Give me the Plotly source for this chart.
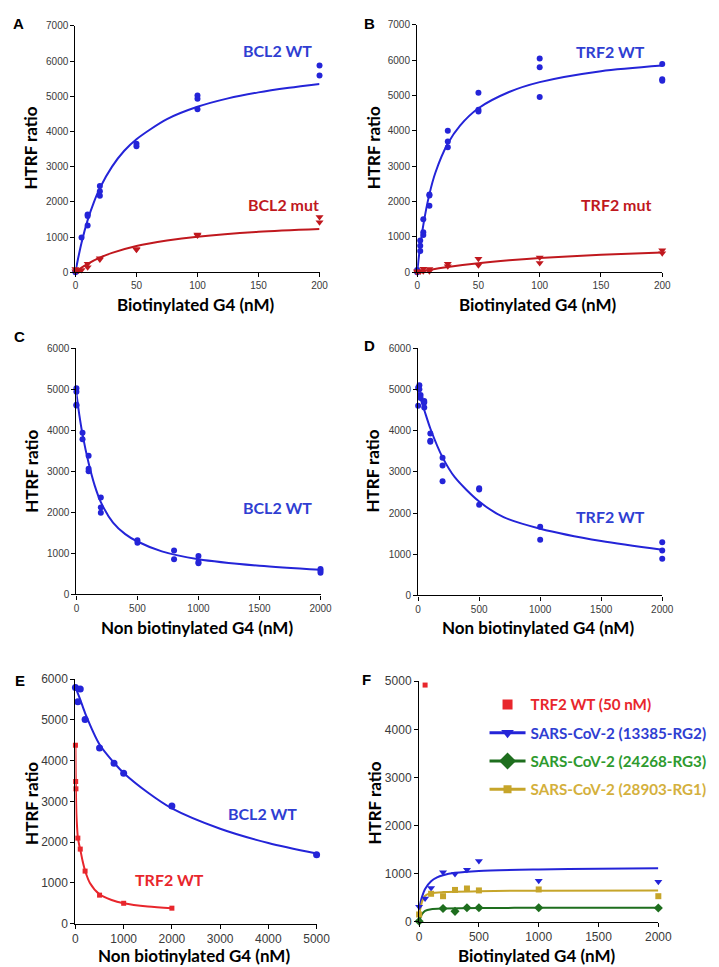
import plotly.graph_objects as go

W, H = 719, 967

# ---------------- DATA ----------------
# Panel A
a_wt_x = [0, 0, 5, 10, 10, 10, 20, 20, 20, 50, 50, 100, 100, 100, 200, 200]
a_wt_y = [30, 0, 990, 1640, 1600, 1330, 2450, 2300, 2170, 3650, 3580, 5020, 4930, 4630, 5870, 5590]
a_wt_fit_x = [0, 2, 5, 10, 15, 20, 30, 40, 50, 75, 100, 125, 150, 175, 200]
a_wt_fit_y = [0, 360, 840, 1480, 1980, 2390, 3000, 3450, 3780, 4350, 4700, 4940, 5110, 5240, 5350]
a_mut_x = [0, 0, 2.5, 5, 10, 10, 20, 20, 50, 50, 100, 100, 200, 200]
a_mut_y = [90, 30, 40, 60, 240, 140, 400, 360, 660, 640, 1070, 1040, 1570, 1420]
a_mut_fit_x = [0, 5, 10, 20, 30, 50, 75, 100, 150, 200]
a_mut_fit_y = [0, 130, 240, 415, 550, 745, 900, 1010, 1150, 1230]

# Panel B
b_wt_x = [0, 0, 2.5, 2.5, 2.5, 5, 5, 5, 10, 10, 10, 25, 25, 25, 50, 50, 50, 100, 100, 100, 200, 200, 200]
b_wt_y = [0, 60, 600, 750, 900, 1500, 1130, 1050, 2200, 2170, 1880, 4000, 3700, 3540,
          5080, 4600, 4550, 6050, 5800, 4960, 5890, 5460, 5420]
b_wt_fit_x = [0, 1, 2, 5, 10, 15, 25, 35, 50, 75, 100, 150, 200]
b_wt_fit_y = [0, 320, 610, 1335, 2210, 2830, 3640, 4150, 4640, 5100, 5380, 5690, 5850]
b_mut_x = [0, 0, 2.5, 5, 5, 10, 10, 25, 25, 50, 50, 100, 100, 200, 200]
b_mut_y = [30, 0, 20, 100, 30, 90, 30, 240, 170, 380, 200, 420, 260, 620, 540]
b_mut_fit_x = [0, 10, 25, 50, 75, 100, 150, 200]
b_mut_fit_y = [0, 65, 147, 255, 337, 400, 494, 560]

# Panel C
c_x = [0, 0, 0, 0, 50, 50, 100, 100, 100, 200, 200, 200, 500, 500, 800, 800,
       1000, 1000, 1000, 2000, 2000, 2000]
c_y = [5020, 4940, 4620, 4600, 3940, 3780, 3380, 3060, 3000, 2360, 2120, 1990, 1320, 1260,
       1070, 860, 940, 790, 760, 620, 580, 530]
c_fit_x = [0, 25, 50, 100, 150, 200, 300, 400, 500, 700, 1000, 1500, 2000]
c_fit_y = [4900, 4350, 3900, 3200, 2650, 2250, 1750, 1470, 1290, 1050, 860, 700, 600]

# Panel D
d_x = [0, 0, 10, 10, 20, 20, 50, 50, 50, 100, 100, 100, 200, 200, 200, 500, 500, 500,
       1000, 1000, 2000, 2000, 2000]
d_y = [4600, 5040, 5100, 5000, 4860, 4790, 4720, 4680, 4560, 3930, 3750, 3730, 3340, 3150,
       2770, 2600, 2570, 2200, 1670, 1350, 1290, 1090, 890]
d_fit_x = [0, 50, 100, 200, 300, 500, 700, 1000, 1500, 2000]
d_fit_y = [4950, 4500, 4050, 3350, 2870, 2280, 1900, 1620, 1320, 1110]

# Panel E
e_bcl_x = [0, 50, 100, 200, 500, 800, 1000, 2000, 5000]
e_bcl_y = [5800, 5450, 5760, 5010, 4310, 3940, 3690, 2890, 1690]
e_bcl_fit_x = [0, 100, 200, 500, 800, 1000, 1500, 2000, 3000, 4000, 5000]
e_bcl_fit_y = [5800, 5500, 5170, 4400, 3950, 3700, 3220, 2830, 2330, 1980, 1720]
e_trf_x = [0, 5, 10, 50, 100, 200, 500, 1000, 2000]
e_trf_y = [4380, 3490, 3310, 2100, 1830, 1290, 700, 500, 380]
e_trf_fit_x = [0, 5, 10, 20, 35, 50, 75, 100, 150, 200, 300, 500, 750, 1000, 1500, 2000]
e_trf_fit_y = [4400, 3700, 3250, 2700, 2350, 2120, 1950, 1820, 1530, 1300, 1000, 720, 580, 500, 420, 380]

# Panel F
f_trf_x = [50]
f_trf_y = [4920]
f_rg2_x = [0, 50, 100, 200, 300, 400, 500, 1000, 2000]
f_rg2_y = [310, 480, 700, 1030, 990, 1080, 1260, 850, 830]
f_rg2_fit_x = [0, 25, 50, 100, 150, 200, 300, 500, 1000, 1500, 2000]
f_rg2_fit_y = [280, 520, 680, 840, 920, 965, 1015, 1055, 1085, 1100, 1110]
f_rg3_x = [0, 200, 300, 400, 500, 1000, 2000]
f_rg3_y = [10, 275, 215, 290, 290, 290, 285]
f_rg3_fit_x = [0, 25, 50, 100, 200, 500, 1000, 2000]
f_rg3_fit_y = [0, 160, 225, 260, 275, 285, 288, 290]
f_rg1_x = [0, 100, 200, 300, 400, 500, 1000, 2000]
f_rg1_y = [150, 580, 530, 660, 690, 650, 670, 530]
f_rg1_fit_x = [0, 25, 50, 100, 200, 500, 1000, 2000]
f_rg1_fit_y = [130, 420, 540, 590, 615, 635, 645, 650]

x_title_bio = "Biotinylated G4 (nM)"
x_title_non = "Non biotinylated G4 (nM)"
y_title = "HTRF ratio"

# ---------------- STYLE ----------------
BLUE = "#2424d8"
BLUE_TXT = "#2f3ed2"
DRED = "#c0181e"
RED = "#e8262c"
GREEN = "#1e6e1e"
GREEN_TXT = "#2e9a2e"
GOLD = "#c6a52a"
GOLD_TXT = "#d4b03c"

fig = go.Figure()

# panel rects in px: (x0, x1, ytop, ybottom)
panels = {
    "A": (66, 316, 11, 261),
    "B": (416, 667, 10, 261),
    "C": (67, 317, 338, 588),
    "D": (417, 667, 338, 589),
    "E": (66, 313, 674, 922),
    "F": (418, 663, 676, 920),
}
ranges = {
    "A": ([0, 200], 50, [0, 7000], 1000, 10),
    "B": ([0, 200], 50, [0, 7000], 1000, 10),
    "C": ([0, 2000], 500, [0, 6000], 1000, 10),
    "D": ([0, 2000], 500, [0, 6000], 1000, 10),
    "E": ([0, 5000], 1000, [0, 6000], 1000, 12),
    "F": ([0, 2000], 500, [0, 5000], 1000, 12),
}
order = ["A", "B", "C", "D", "E", "F"]
axis_ids = {}
layout_axes = {}
for i, k in enumerate(order):
    n = "" if i == 0 else str(i + 1)
    x0, x1, yt, yb = panels[k]
    xr, xd, yr, yd, fs = ranges[k]
    common = dict(showline=True, linecolor="black", linewidth=1.3, ticks="outside",
                  ticklen=4, tickwidth=1.3, tickcolor="black", showgrid=False,
                  zeroline=False, tickfont=dict(family="Liberation Sans, Arial", size=fs, color="#3a3a3a"))
    layout_axes["xaxis" + n] = dict(domain=[x0 / W, x1 / W], range=xr, dtick=xd,
                                    anchor="y" + n, **common)
    layout_axes["yaxis" + n] = dict(domain=[1 - yb / H, 1 - yt / H], range=yr, dtick=yd,
                                    anchor="x" + n, **common)
    axis_ids[k] = ("x" + n, "y" + n)


def pts(k, x, y, color, symbol, size=6):
    xa, ya = axis_ids[k]
    fig.add_trace(go.Scatter(x=x, y=y, mode="markers", xaxis=xa, yaxis=ya, showlegend=False,
                             cliponaxis=False,
                             marker=dict(color=color, symbol=symbol, size=size)))


def fit(k, x, y, color, width=2):
    xa, ya = axis_ids[k]
    fig.add_trace(go.Scatter(x=x, y=y, mode="lines", xaxis=xa, yaxis=ya, showlegend=False,
                             line=dict(color=color, width=width, shape="spline", smoothing=0.8)))


fit("A", a_wt_fit_x, a_wt_fit_y, BLUE)
pts("A", a_wt_x, a_wt_y, BLUE, "circle")
fit("A", a_mut_fit_x, a_mut_fit_y, DRED)
pts("A", a_mut_x, a_mut_y, DRED, "triangle-down", 7)

fit("B", b_wt_fit_x, b_wt_fit_y, BLUE)
pts("B", b_wt_x, b_wt_y, BLUE, "circle")
fit("B", b_mut_fit_x, b_mut_fit_y, DRED)
pts("B", b_mut_x, b_mut_y, DRED, "triangle-down", 7)

fit("C", c_fit_x, c_fit_y, BLUE)
pts("C", c_x, c_y, BLUE, "circle")

fit("D", d_fit_x, d_fit_y, BLUE)
pts("D", d_x, d_y, BLUE, "circle")

fit("E", e_bcl_fit_x, e_bcl_fit_y, BLUE)
pts("E", e_bcl_x, e_bcl_y, BLUE, "circle", 7)
fit("E", e_trf_fit_x, e_trf_fit_y, RED)
pts("E", e_trf_x, e_trf_y, RED, "square", 5)

fit("F", f_rg2_fit_x, f_rg2_fit_y, BLUE)
fit("F", f_rg1_fit_x, f_rg1_fit_y, GOLD)
fit("F", f_rg3_fit_x, f_rg3_fit_y, GREEN)
pts("F", f_trf_x, f_trf_y, RED, "square", 5)
pts("F", f_rg2_x, f_rg2_y, BLUE, "triangle-down", 7)
pts("F", f_rg1_x, f_rg1_y, GOLD, "square", 6)
pts("F", f_rg3_x, f_rg3_y, GREEN, "diamond", 7)

# legend entries for panel F
leg = [
    ("TRF2 WT (50 nM)", RED, RED, "square", "markers", 10),
    ("SARS-CoV-2 (13385-RG2)", BLUE, BLUE_TXT, "triangle-down", "lines+markers", 11),
    ("SARS-CoV-2 (24268-RG3)", GREEN, GREEN_TXT, "diamond", "lines+markers", 13),
    ("SARS-CoV-2 (28903-RG1)", GOLD, GOLD_TXT, "square", "lines+markers", 8),
]
xa, ya = axis_ids["F"]
for i, (name, c, tc, sym, mode, sz) in enumerate(leg):
    fig.add_trace(go.Scatter(x=[None], y=[None], mode=mode, xaxis=xa, yaxis=ya,
                             name=f"<span style='color:{tc}'>{name}</span>",
                             legendgroup=f"g{i}",
                             marker=dict(color=c, symbol=sym, size=sz),
                             line=dict(color=c, width=3)))

annotations = []


def txt(x, y, s, color="black", size=16, family="Lato", angle=0, bold=True):
    annotations.append(dict(x=x / W, y=1 - y / H, xref="paper", yref="paper", text=s,
                            showarrow=False, xanchor="center", yanchor="middle", textangle=angle,
                            font=dict(family=family, size=size, color=color,
                                      weight="bold" if bold else "normal")))


# panel letters
for L, (lx, ly) in {"A": (8, 9), "B": (367, 9), "C": (9, 326), "D": (367, 335),
                    "E": (9, 675), "F": (364, 674)}.items():
    txt(lx, ly, L, size=15, family="Liberation Sans, Arial")

# axis titles
for k, (xt, xy, yx, yy) in {"A": (x_title_bio, 294, 20, 135), "B": (x_title_bio, 294, 371, 135),
                            "C": (x_title_non, 621, 21, 463), "D": (x_title_non, 621, 370, 463),
                            "E": (x_title_non, 954, 21, 800), "F": (x_title_bio, 954, 372, 800)}.items():
    x0, x1, yt, yb = panels[k]
    txt((x0 + x1) / 2 - 2, xy, xt, size=17)
    txt(yx, yy, y_title, size=17, angle=-90)

# series labels
txt(273, 36, "BCL2 WT", BLUE_TXT)
txt(279, 192, "BCL2 mut", DRED)
txt(614, 37, "TRF2 WT", BLUE_TXT)
txt(620, 192, "TRF2 mut", DRED)
txt(273, 500, "BCL2 WT", BLUE_TXT)
txt(614, 509, "TRF2 WT", BLUE_TXT)
txt(258, 810, "BCL2 WT", BLUE_TXT)
txt(162, 877, "TRF2 WT", RED)

fig.update_layout(
    width=W, height=H, margin=dict(l=0, r=0, t=0, b=0),
    paper_bgcolor="white", plot_bgcolor="white",
    annotations=annotations,
    showlegend=True,
    legend=dict(x=485 / W, y=1 - 683 / H, xanchor="left", yanchor="top",
                font=dict(family="Lato", size=15.2, weight="bold"),
                bgcolor="rgba(0,0,0,0)", traceorder="grouped", tracegroupgap=5.5,
                itemwidth=36),
    **layout_axes,
)

fig.write_html("out.html")
